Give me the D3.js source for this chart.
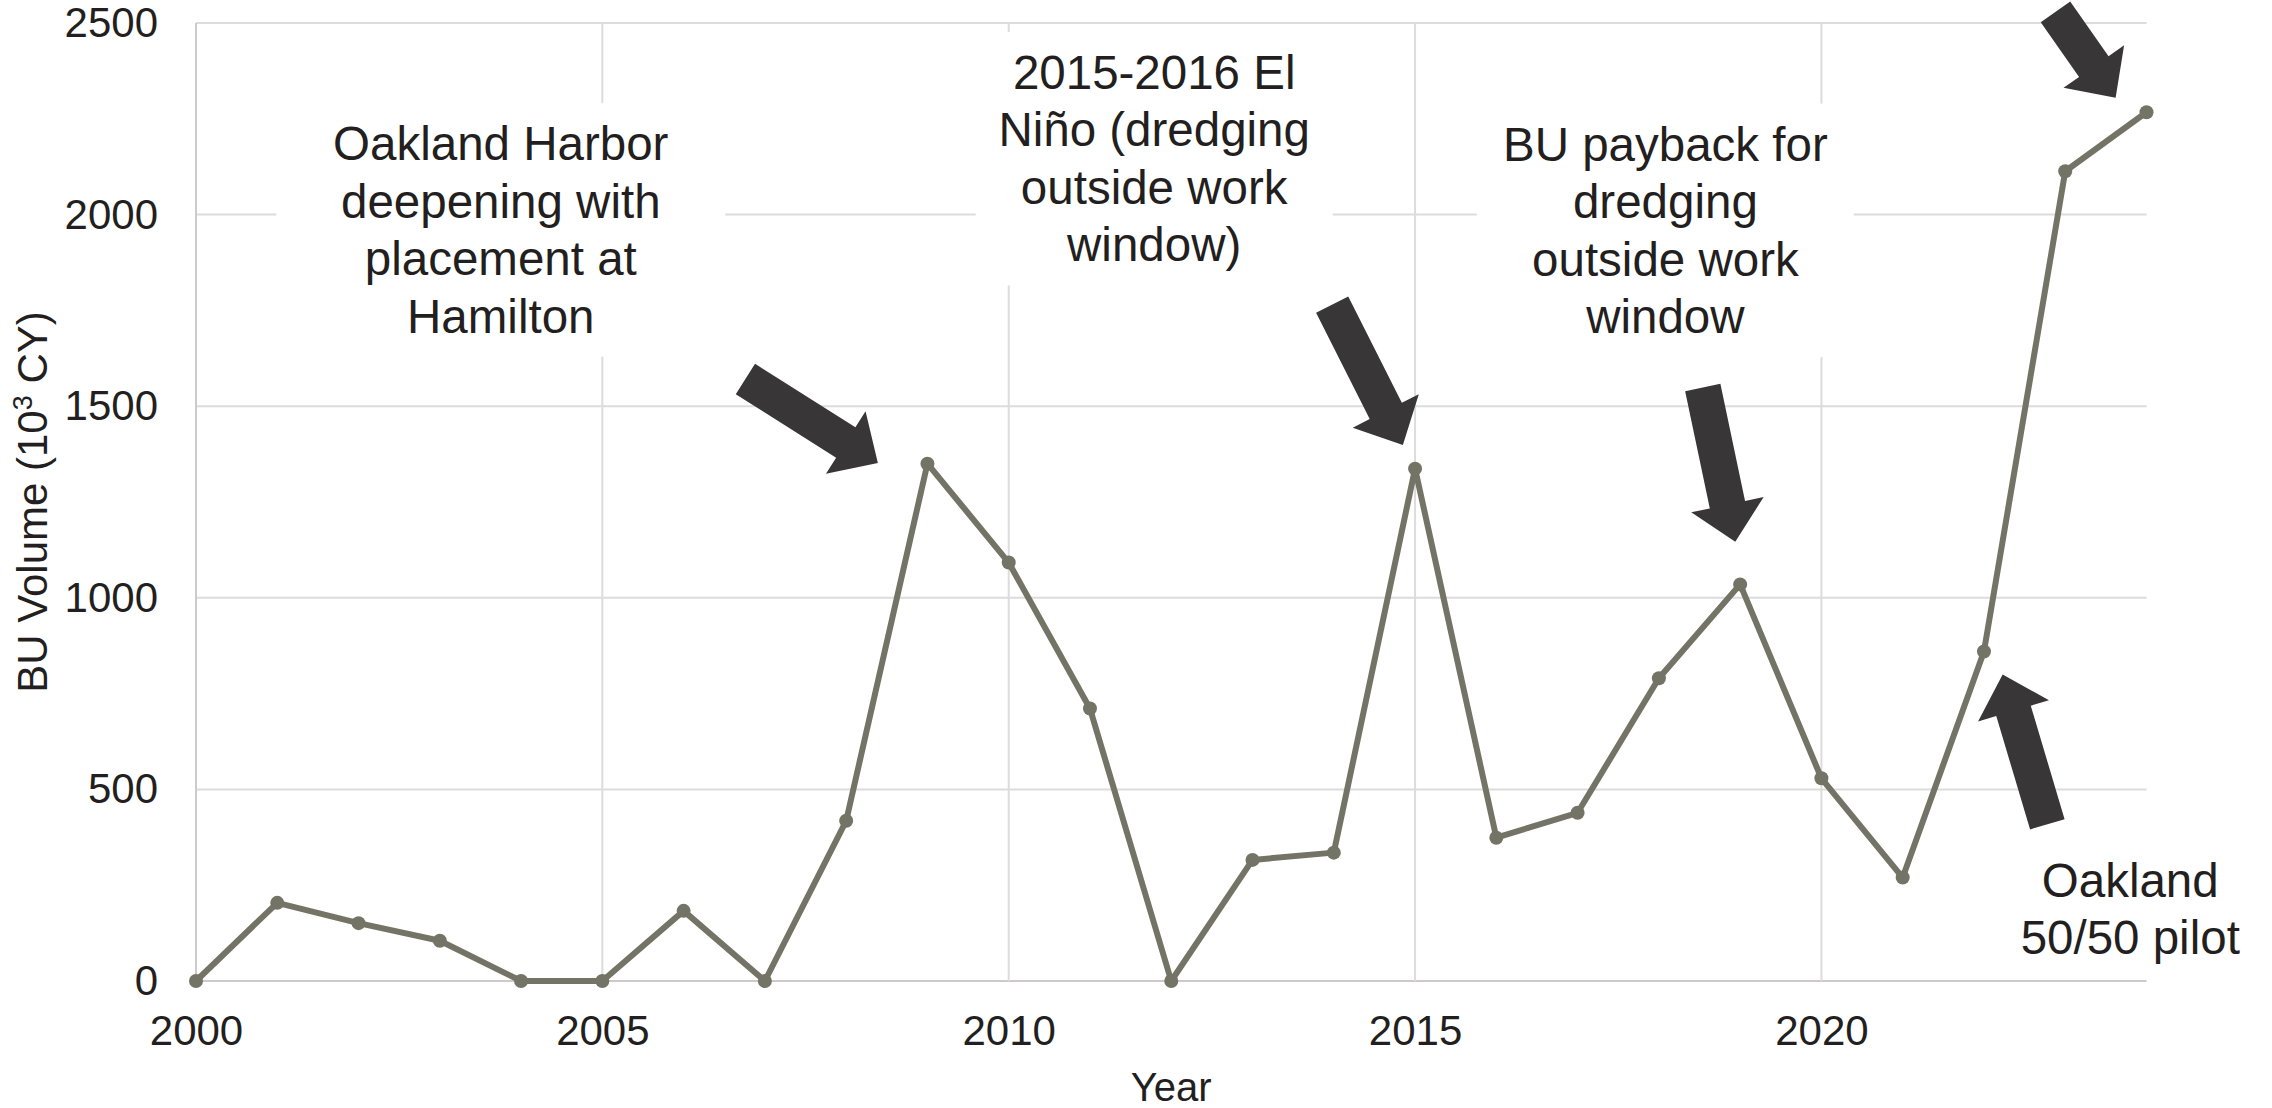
<!DOCTYPE html>
<html>
<head>
<meta charset="utf-8">
<script src="https://cdn.jsdelivr.net/npm/d3@7"></script>
<style>
  body { margin: 0; background: #fff; }
  svg { display: block; font-family: "Liberation Sans", Arial, sans-serif; }
</style>
</head>
<body>
<svg id="chart" width="2272" height="1108"></svg>
<script>
const years = [2000, 2001, 2002, 2003, 2004, 2005, 2006, 2007, 2008, 2009, 2010, 2011, 2012,
  2013, 2014, 2015, 2016, 2017, 2018, 2019, 2020, 2021, 2022, 2023, 2024];
const buVolume = [0, 204, 151, 105, 0, 0, 183, 0, 418, 1350, 1092, 711, 0,
  316, 335, 1337, 374, 439, 790, 1035, 529, 270, 860, 2113, 2267];

const xTicks = [2000, 2005, 2010, 2015, 2020];
const yTicks = [0, 500, 1000, 1500, 2000, 2500];

// callout texts, one entry per line
const notes = [
  ["Oakland Harbor", "deepening with", "placement at", "Hamilton"],
  ["2015-2016 El", "Niño (dredging", "outside work", "window)"],
  ["BU payback for", "dredging", "outside work", "window"],
  ["Oakland", "50/50 pilot"]
];
// where each callout sits: centre year, value at first baseline, box width (0 = no box)
const notePlaces = [
  { year: 2003.75, value: 2142, boxW: 449 },
  { year: 2011.79, value: 2328, boxW: 357 },
  { year: 2018.08, value: 2141, boxW: 377 },
  { year: 2023.80, value: 220, boxW: 0 }
];

// block arrows: tail and tip in [year, value]
const arrows = [
  [[2006.76, 1571], [2008.39, 1352]],
  [[2013.98, 1765], [2014.85, 1399]],
  [[2018.54, 1549], [2018.94, 1146]],
  [[2022.88, 2529], [2023.62, 2305]],
  [[2022.78, 409], [2022.23, 800]]
];

const svg = d3.select("#chart");
const plotLeft = 196, plotRight = 2146.5, plotBottom = 981, plotTop = 23;

const x = d3.scaleLinear().domain([2000, 2024]).range([plotLeft, plotRight]);
const y = d3.scaleLinear().domain([0, 2500]).range([plotBottom, plotTop]);

// grid
const grid = svg.append("g");
grid.selectAll(".hgrid")
  .data(yTicks)
  .join("line")
  .attr("x1", x(2000)).attr("x2", x(2024))
  .attr("y1", (d) => y(d)).attr("y2", (d) => y(d))
  .attr("stroke", (d) => (d === 0 ? "#cdc9cc" : "#dcdcdc"))
  .attr("stroke-width", 2);
grid.selectAll(".vgrid")
  .data(xTicks)
  .join("line")
  .attr("x1", (d) => x(d)).attr("x2", (d) => x(d))
  .attr("y1", y(0)).attr("y2", y(2500))
  .attr("stroke", (d) => (d === 2000 ? "#cdc9cc" : "#dcdcdc"))
  .attr("stroke-width", 2);

// axes (labels only)
const yAxis = svg.append("g")
  .attr("transform", `translate(${plotLeft},0)`)
  .call(d3.axisLeft(y).tickValues(yTicks).tickFormat(d3.format("d")).tickSize(0).tickPadding(38));
const xAxis = svg.append("g")
  .attr("transform", `translate(0,${plotBottom})`)
  .call(d3.axisBottom(x).tickValues(xTicks).tickFormat(d3.format("d")).tickSize(0).tickPadding(34));
[yAxis, xAxis].forEach((g) => {
  g.select(".domain").remove();
  g.selectAll("text")
    .style("font-family", '"Liberation Sans", Arial, sans-serif')
    .style("font-size", "42px")
    .attr("fill", "#231f20");
});

svg.append("text")
  .attr("x", x(2012)).attr("y", 1101)
  .attr("text-anchor", "middle")
  .attr("font-size", 40)
  .attr("fill", "#231f20")
  .text("Year");

const yTitle = svg.append("text")
  .attr("transform", `translate(47,${(plotTop + plotBottom) / 2}) rotate(-90)`)
  .attr("text-anchor", "middle")
  .attr("font-size", 42)
  .attr("fill", "#231f20");
yTitle.append("tspan").text("BU Volume (10");
yTitle.append("tspan").attr("font-size", 27).attr("dy", -15).text("3");
yTitle.append("tspan").attr("dy", 15).text(" CY)");

// white boxes behind callouts
const lineGap = 57.5;
notePlaces.forEach((p, i) => {
  if (!p.boxW) return;
  const cx = x(p.year), by = y(p.value);
  const n = notes[i].length;
  svg.append("rect")
    .attr("x", cx - p.boxW / 2)
    .attr("y", by - 57)
    .attr("width", p.boxW)
    .attr("height", 57 + (n - 1) * lineGap + 24)
    .attr("fill", "#fff");
});

// series
const line = d3.line().x((d, i) => x(years[i])).y((d) => y(d));
svg.append("path")
  .datum(buVolume)
  .attr("d", line)
  .attr("fill", "none")
  .attr("stroke", "#747466")
  .attr("stroke-width", 6)
  .attr("stroke-linejoin", "round");
svg.selectAll(".pt")
  .data(buVolume)
  .join("circle")
  .attr("cx", (d, i) => x(years[i]))
  .attr("cy", (d) => y(d))
  .attr("r", 7)
  .attr("fill", "#747466");

// arrows
function arrowPath(tail, tip) {
  const tx = x(tail[0]), ty = y(tail[1]);
  const hx = x(tip[0]), hy = y(tip[1]);
  const len = Math.hypot(hx - tx, hy - ty);
  const ux = (hx - tx) / len, uy = (hy - ty) / len;
  const nx = -uy, ny = ux;
  const sw = 18, hw = 37, hl = 38;
  const bx = hx - ux * hl, by = hy - uy * hl;
  const pts = [
    [tx + nx * sw, ty + ny * sw],
    [bx + nx * sw, by + ny * sw],
    [bx + nx * hw, by + ny * hw],
    [hx, hy],
    [bx - nx * hw, by - ny * hw],
    [bx - nx * sw, by - ny * sw],
    [tx - nx * sw, ty - ny * sw]
  ];
  return "M" + pts.map((p) => p.join(",")).join("L") + "Z";
}
svg.selectAll(".arrow")
  .data(arrows)
  .join("path")
  .attr("d", (d) => arrowPath(d[0], d[1]))
  .attr("fill", "#383637");

// callout text
notePlaces.forEach((p, i) => {
  const t = svg.append("text")
    .attr("text-anchor", "middle")
    .attr("font-size", 47.5)
    .attr("fill", "#231f20");
  notes[i].forEach((s, k) => {
    t.append("tspan")
      .attr("x", x(p.year))
      .attr("y", y(p.value) + k * lineGap)
      .text(s);
  });
});
</script>
</body>
</html>
